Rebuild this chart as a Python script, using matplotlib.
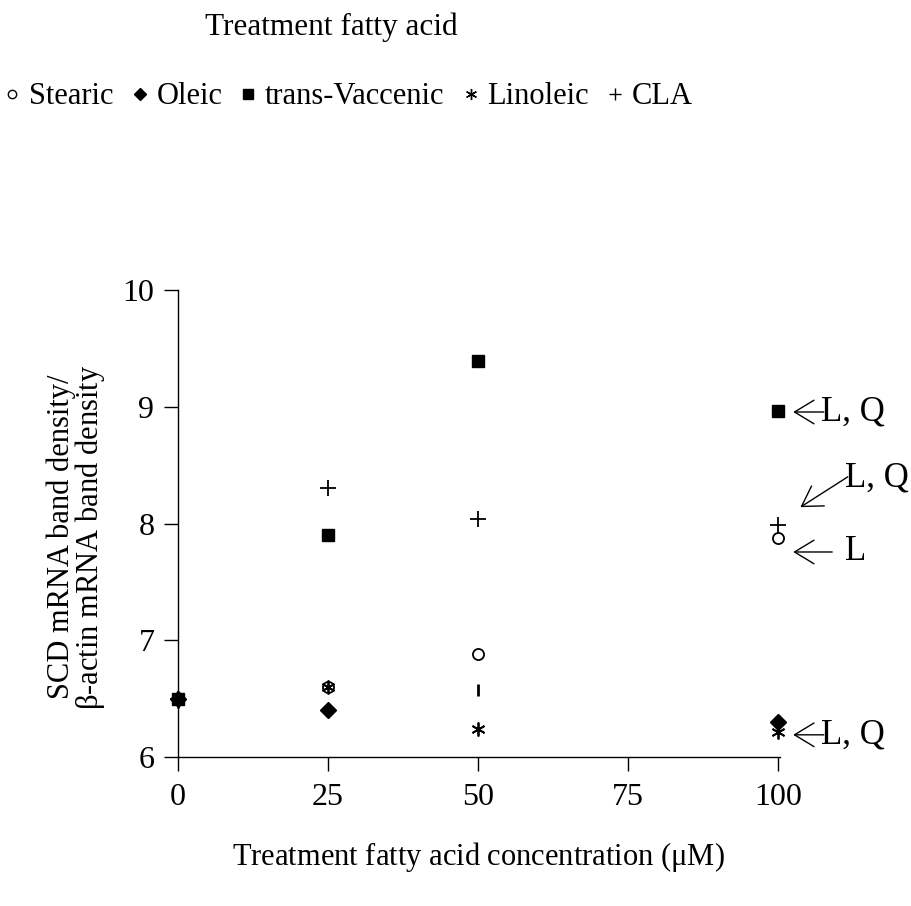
import matplotlib
matplotlib.use("Agg")
import matplotlib.pyplot as plt
from matplotlib.lines import Line2D

plt.rcParams['font.family'] = ['Liberation Serif', 'DejaVu Serif']
plt.rcParams['mathtext.fontset'] = 'stix'

# Data
conc = [0, 25, 50, 100]
stearic = [6.5, 6.6, 6.88, 7.88]
oleic_x = [0, 25, 100]
oleic = [6.5, 6.4, 6.30]
trans_vaccenic = [6.5, 7.90, 9.39, 8.96]
linoleic = [6.48, 6.6, 6.24, 6.21]
cla = [6.5, 8.30, 8.04, 7.99]
other_x = [50]
other_y = [6.57]

x_ticks = [0, 25, 50, 75, 100]
y_ticks = [6, 7, 8, 9, 10]

W, H = 912, 906
fig = plt.figure(figsize=(W / 100, H / 100), dpi=100)
ax = fig.add_axes([178 / W, 1 - 757 / H, 602 / W, (757 - 290) / H])

ax.plot(conc, stearic, linestyle='none', marker='o', mfc='white', mec='black',
        ms=8, mew=1.3, clip_on=False, zorder=3)
ax.plot(oleic_x, oleic, linestyle='none', marker='D', color='black', ms=8,
        clip_on=False, zorder=3)
ax.plot(conc, linoleic, linestyle='none', marker=(6, 2, 0), color='black', ms=10,
        mew=1.3, clip_on=False, zorder=3)
ax.plot(conc, cla, linestyle='none', marker='+', color='black', ms=11, mew=1.3,
        clip_on=False, zorder=3)
ax.plot(conc, trans_vaccenic, linestyle='none', marker='s', color='black', ms=8,
        clip_on=False, zorder=4)
ax.plot(other_x, other_y, linestyle='none', marker='|', color='black', ms=9,
        mew=2, clip_on=False, zorder=3)

ax.set_xlim(0, 100.3)
ax.set_ylim(6, 10)
ax.set_xticks(x_ticks)
ax.set_yticks(y_ticks)
for s in ['top', 'right']:
    ax.spines[s].set_visible(False)
for s in ['left', 'bottom']:
    ax.spines[s].set_linewidth(1.0)
ax.tick_params(direction='out', length=10, width=1.0, labelsize=23)
ax.tick_params(axis='x', pad=9)
ax.tick_params(axis='y', pad=7)

fig.text(478 / W, 1 - 857 / H, 'Treatment fatty acid concentration ($\\mathregular{\\mu}$M)',
         ha='center', va='center', fontsize=22)
fig.text(61 / W, 1 - 537 / H, 'SCD mRNA band density/', rotation=90,
         ha='center', va='center', fontsize=22)
fig.text(90 / W, 1 - 537 / H, '$\\mathregular{\\beta}$-actin mRNA band density', rotation=90,
         ha='center', va='center', fontsize=22)

# annotations
arrow_kw = dict(arrowstyle='->, head_length=1.4, head_width=0.85', color='black', lw=1.0,
                shrinkA=0, shrinkB=0)
def ann(head, tail):
    ax.annotate('', xy=head, xytext=tail, arrowprops=arrow_kw, annotation_clip=False)

ann((102.5, 8.955), (107.6, 8.955))
ax.text(107.2, 8.955, 'L, Q', fontsize=25, va='center', ha='left', clip_on=False)
ann((103.7, 8.14), (111.6, 8.40))
ax.text(111.2, 8.39, 'L, Q', fontsize=25, va='center', ha='left', clip_on=False)
ann((102.5, 7.756), (109.0, 7.756))
ax.text(111.2, 7.756, 'L', fontsize=25, va='center', ha='left', clip_on=False)
ann((102.5, 6.19), (107.6, 6.19))
ax.text(107.2, 6.19, 'L, Q', fontsize=25, va='center', ha='left', clip_on=False)

# legend
fig.text(205 / W, 1 - 27 / H, 'Treatment fatty acid', ha='left', va='center', fontsize=22.5)
handles = [
    Line2D([], [], linestyle='none', marker='o', mfc='white', mec='black', ms=6, mew=1),
    Line2D([], [], linestyle='none', marker='D', color='black', ms=6),
    Line2D([], [], linestyle='none', marker='s', color='black', ms=7),
    Line2D([], [], linestyle='none', marker=(6, 2, 0), color='black', ms=8, mew=1),
    Line2D([], [], linestyle='none', marker='+', color='black', ms=9, mew=1),
]
labels = ['Stearic', 'Oleic', 'trans-Vaccenic', 'Linoleic', 'CLA']
fig.legend(handles, labels, loc='center left', bbox_to_anchor=(0.0, 1 - 97 / H),
           ncol=5, frameon=False, fontsize=22, handlelength=0.5, handletextpad=0.3,
           columnspacing=0.6, borderaxespad=0, borderpad=0.15)

fig.savefig('out.png', dpi=100)
